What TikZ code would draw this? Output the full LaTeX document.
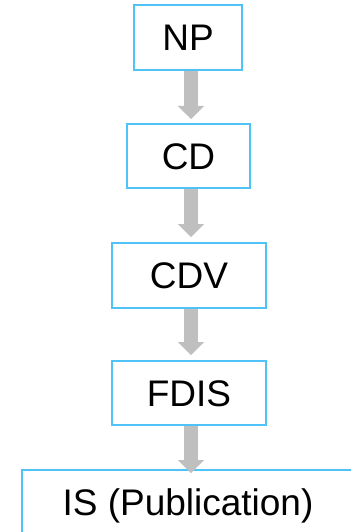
\documentclass[tikz,border=0pt]{standalone}
\usepackage{fontspec}
\setmainfont{Liberation Sans}
\usetikzlibrary{arrows.meta}
\definecolor{stageblue}{RGB}{79,195,247}
\definecolor{flowgray}{RGB}{191,191,191}
\begin{document}
\begin{tikzpicture}[x=1pt,y=-1pt,
  stage/.style={draw=stageblue, line width=2pt, fill=white,
    inner sep=0pt, outer sep=0pt, text height=26.5pt, text depth=0pt,
    font=\fontsize{37}{44}\selectfont},
  flow/.style={draw=flowgray, line width=14pt,
    -{Triangle[width=26pt,length=13pt,line width=0.1pt]}}]
\useasboundingbox (0,0) rectangle (351,532);
\clip (0,0) rectangle (351,532);
% stages of the standard
\node[stage, minimum width=108pt, minimum height=65pt] (np)   at (188,37.5)  {NP};
\node[stage, minimum width=123pt, minimum height=64pt] (cd)   at (188.5,156) {CD};
\node[stage, minimum width=154pt, minimum height=65pt] (cdv)  at (189,275.5) {CDV};
\node[stage, minimum width=154pt, minimum height=64pt] (fdis) at (189,393)   {FDIS};
\node[stage, minimum width=332pt, minimum height=65pt] (is)   at (188,502.5) {IS (Publication)};
% common vertical axis of the block arrows
\coordinate (axis) at (191,0);
\draw[flow] ([yshift=-1pt]np.south -| axis)   -- ([yshift=5pt]cd.north -| axis);
\draw[flow] ([yshift=-1pt]cd.south -| axis)   -- ([yshift=6pt]cdv.north -| axis);
\draw[flow] ([yshift=-1pt]cdv.south -| axis)  -- ([yshift=6pt]fdis.north -| axis);
\draw[flow] ([yshift=-1pt]fdis.south -| axis) -- ([yshift=-3pt]is.north -| axis);
\end{tikzpicture}
\end{document}
